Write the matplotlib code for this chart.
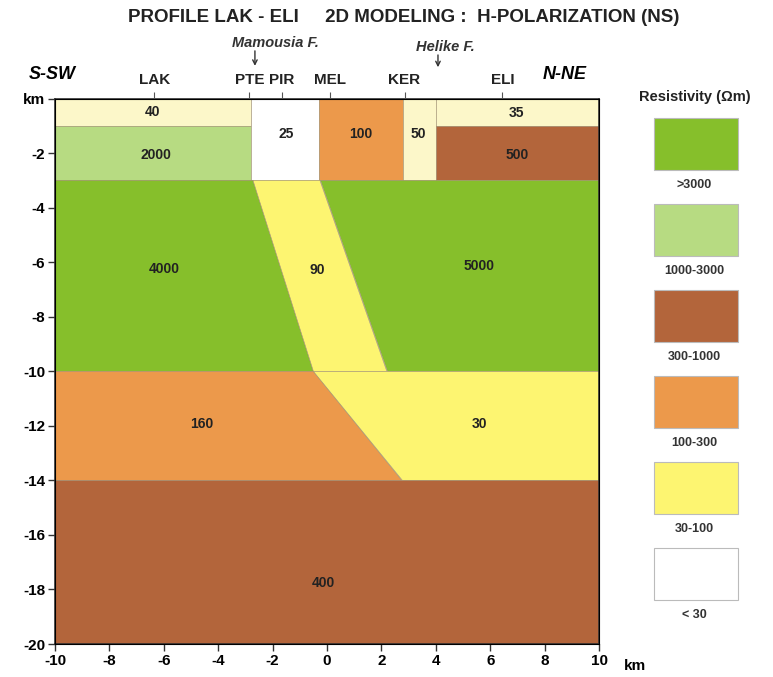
import matplotlib
matplotlib.use("Agg")
import matplotlib.pyplot as plt
from matplotlib.patches import Rectangle

plt.rcParams["font.family"] = ["Liberation Sans", "DejaVu Sans"]

# --- data: model blocks (x km, depth km) and their resistivities -------------
C_GREEN = "#86bf2b"
C_LGREEN = "#b7db82"
C_BROWN = "#b3653b"
C_ORANGE = "#ec994b"
C_YELLOW = "#fdf571"
C_CREAM = "#fcf7c9"
C_WHITE = "#ffffff"

blocks = [
    # (xs, ys, colour, label, label_x, label_y)
    ([-10, -2.78, -2.78, -10], [0, 0, -1, -1], C_CREAM, "40", -6.4, -0.5),
    ([-10, -2.78, -2.78, -10], [-1, -1, -3, -3], C_LGREEN, "2000", -6.3, -2.05),
    ([-2.78, -0.28, -0.28, -2.78], [0, 0, -3, -3], C_WHITE, "25", -1.5, -1.3),
    ([-0.28, 2.78, 2.78, -0.28], [0, 0, -3, -3], C_ORANGE, "100", 1.25, -1.28),
    ([2.78, 4.0, 4.0, 2.78], [0, 0, -3, -3], C_CREAM, "50", 3.35, -1.3),
    ([4.0, 10, 10, 4.0], [0, 0, -1, -1], C_CREAM, "35", 6.95, -0.52),
    ([4.0, 10, 10, 4.0], [-1, -1, -3, -3], C_BROWN, "500", 7.0, -2.05),
    ([-10, -2.72, -0.5, -10], [-3, -3, -10, -10], C_GREEN, "4000", -6.0, -6.25),
    ([-2.72, -0.26, 2.2, -0.5], [-3, -3, -10, -10], C_YELLOW, "90", -0.35, -6.3),
    ([-0.26, 10, 10, 2.2], [-3, -3, -10, -10], C_GREEN, "5000", 5.6, -6.15),
    ([-10, -0.5, 2.75, -10], [-10, -10, -14, -14], C_ORANGE, "160", -4.6, -11.95),
    ([-0.5, 10, 10, 2.75], [-10, -10, -14, -14], C_YELLOW, "30", 5.6, -11.95),
    ([-10, 10, 10, -10], [-14, -14, -20, -20], C_BROWN, "400", -0.15, -17.75),
]

stations = ["LAK", "PTE", "PIR", "MEL", "KER", "ELI"]
station_x = [-6.35, -2.85, -1.65, 0.1, 2.85, 6.45]

faults = ["Mamousia F.", "Helike F."]
fault_x = [-2.65, 4.08]

legend_labels = [">3000", "1000-3000", "300-1000", "100-300", "30-100", "< 30"]
legend_colors = [C_GREEN, C_LGREEN, C_BROWN, C_ORANGE, C_YELLOW, C_WHITE]

xticks = list(range(-10, 11, 2))
yticks = list(range(0, -21, -2))

# --- figure -------------------------------------------------------------------
W, H = 773, 677
fig = plt.figure(figsize=(W / 100, H / 100), dpi=100)
ax = fig.add_axes([55 / W, 1 - 644 / H, 544 / W, (644 - 98.6) / H])

for xs, ys, col, lab, lx, ly in blocks:
    ax.fill(xs, ys, facecolor=col, edgecolor="#a09070", lw=0.4)
    ax.text(lx, ly, lab, ha="center", va="center", fontsize=10, fontweight="bold",
            color="#222222")

ax.set_xlim(-10, 10)
ax.set_ylim(-20, 0)
ax.set_xticks(xticks)
ax.set_xticklabels([str(v) for v in xticks], fontsize=11, fontweight="bold")
ax.set_yticks(yticks)
ax.set_yticklabels(["km"] + [str(v) for v in yticks[1:]], fontsize=11,
                   fontweight="bold")
ax.tick_params(direction="out", length=5, width=1, pad=2, color="#333333")
for sp in ax.spines.values():
    sp.set_linewidth(1.2)
    sp.set_color("#333333")
ax.text(10.9, -20.8, "km", fontsize=11, fontweight="bold", va="center",
        ha="left", clip_on=False)

# station ticks on the top
top = ax.twiny()
top.set_xlim(-10, 10)
top.set_xticks(station_x)
top.set_xticklabels(stations, fontsize=11, fontweight="bold", color="#222222")
top.tick_params(direction="out", length=5, width=0.8, pad=3, color="#555555")
ax.text(-10.1, 0.9, "S-SW", fontsize=13, fontweight="bold", style="italic",
        ha="center", va="center", clip_on=False)
ax.text(8.75, 0.9, "N-NE", fontsize=13, fontweight="bold", style="italic",
        ha="center", va="center", clip_on=False)

# fault annotations
ax.text(-1.9, 2.05, faults[0], fontsize=10.5, fontweight="bold", style="italic",
        ha="center", va="center", color="#333333", clip_on=False)
ax.annotate("", xy=(fault_x[0], 1.2), xytext=(fault_x[0], 1.75),
            arrowprops=dict(arrowstyle="->", lw=1.0, color="#333333",
                            mutation_scale=8, shrinkA=0, shrinkB=0),
            annotation_clip=False)
ax.text(4.35, 1.9, faults[1], fontsize=10.5, fontweight="bold", style="italic",
        ha="center", va="center", color="#333333", clip_on=False)
ax.annotate("", xy=(fault_x[1], 1.15), xytext=(fault_x[1], 1.6),
            arrowprops=dict(arrowstyle="->", lw=1.0, color="#333333",
                            mutation_scale=8, shrinkA=0, shrinkB=0),
            annotation_clip=False)

fig.text(404 / W, 1 - 18 / H,
         "PROFILE LAK - ELI     2D MODELING :  H-POLARIZATION (NS)",
         ha="center", va="center", fontsize=13.5, fontweight="bold",
         color="#222222")

# --- legend -------------------------------------------------------------------
lax = fig.add_axes([0, 0, 1, 1])
lax.set_xlim(0, W)
lax.set_ylim(H, 0)
lax.axis("off")
lax.text(695, 97, "Resistivity (\u03a9m)", ha="center", va="center",
         fontsize=10.5, fontweight="bold", color="#222222")
for i, (lab, col) in enumerate(zip(legend_labels, legend_colors)):
    y0 = 118 + i * 86
    lax.add_patch(Rectangle((654, y0), 84, 52, facecolor=col,
                            edgecolor="#bbbbbb", lw=0.8))
    lax.text(694, y0 + 67, lab, ha="center", va="center", fontsize=9,
             fontweight="bold", color="#333333")

fig.savefig("out.png", dpi=100)
